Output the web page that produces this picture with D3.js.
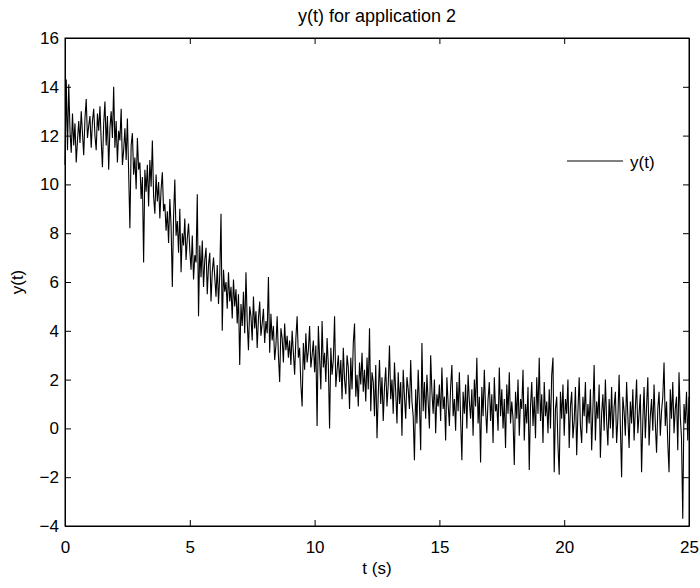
<!DOCTYPE html>
<html>
<head>
<meta charset="utf-8">
<script src="https://cdn.jsdelivr.net/npm/d3@7"></script>
<style>
body { margin: 0; background: #fff; }
text { font-family: "Liberation Sans", Arial, sans-serif; font-size: 17px; fill: #000; }
.axis path, .axis line { stroke: #000; }
</style>
</head>
<body>
<script>
var xTicks = [0, 5, 10, 15, 20, 25];
var yTicks = [-4, -2, 0, 2, 4, 6, 8, 10, 12, 14, 16];
var seriesName = "y(t)";

// samples, 0.05 s apart, one row per second
var yValues = [
  10.8, 14.3, 11.4, 14.1, 12.2, 11.3, 12.9, 11.6, 12.5, 10.9, 11.8, 12.6, 11.7, 13.0, 12.1, 11.2, 12.7, 13.5, 11.9, 12.4,
  12.8, 11.5, 12.6, 13.1, 12.0, 11.4, 12.9, 12.2, 13.2, 11.8, 10.7, 12.5, 13.4, 11.6, 12.8, 10.6, 12.3, 13.0, 11.9, 14.0,
  11.5, 12.6, 10.9, 12.2, 11.8, 13.1, 10.8, 11.4, 12.3, 11.0, 12.7, 10.5, 8.2, 11.6, 12.1, 10.4, 11.1, 9.8, 11.9, 10.6,
  10.9, 9.4, 10.3, 6.8, 10.6, 9.7, 10.8, 9.1, 11.0, 9.9, 11.8, 9.5, 8.8, 10.4, 9.3, 10.1, 8.6, 9.8, 10.5, 8.9,
  9.2, 8.1, 8.9, 7.6, 9.4, 8.3, 5.8, 8.7, 10.2, 7.9, 8.5, 7.2, 9.0, 6.4, 8.0, 7.5, 8.6, 6.9, 7.8, 8.4,
  7.3, 6.5, 7.9, 6.1, 7.1, 6.8, 9.6, 4.6, 7.5, 6.2, 7.7, 5.8, 6.9, 7.4, 5.5, 6.7, 7.2, 5.2, 6.4, 7.0,
  6.2, 5.4, 6.7, 5.1, 6.3, 8.8, 4.0, 6.5, 5.6, 6.0, 4.9, 6.4, 5.2, 5.8, 4.5, 6.1, 5.0, 5.7, 4.3, 5.5,
  2.6, 5.1, 4.2, 5.6, 3.9, 6.4, 4.4, 3.2, 5.0, 4.6, 3.6, 5.4, 4.1, 4.8, 3.3, 4.5, 5.2, 3.8, 4.3, 4.9,
  3.5, 4.4, 3.9, 6.2, 3.1, 4.7, 3.6, 4.2, 2.8, 3.4, 4.6, 3.0, 1.9, 4.1, 3.7, 2.7, 4.3, 3.2, 3.8, 2.9,
  3.6, 2.6, 4.0, 3.1, 2.2, 3.7, 4.6, 2.9, 3.3, 1.8, 0.9, 3.5, 2.4, 3.9, 2.7, 3.2, 4.2, 2.5, 3.0, 3.6,
  2.3, 3.4, 0.1, 4.2, 2.9, 1.6, 4.4, 2.5, 3.1, 1.9, 3.7, 2.6, 0.0, 3.3, 2.2, 2.8, 4.6, 1.7, 2.4, 3.0,
  1.9, 2.8, 1.2, 3.3, 2.0, 1.4, 3.0, 2.5, 0.8, 2.9, 1.6, 3.5, 4.3, 1.3, 2.2, 0.9, 2.7, 1.8, 3.1, 1.5,
  2.4, 1.1, 2.9, 1.6, 4.1, 0.7, 2.3, 1.9, 0.5, 2.6, -0.4, 1.4, 2.8, 1.0, 2.1, 0.3, 1.7, 2.5, 0.9, 1.8,
  3.4, 1.2, 2.0, 0.6, 2.7, 1.5, 0.2, 2.3, 1.0, 1.9, -0.3, 2.4, 1.3, 0.4, 2.1, 1.6, 0.8, 2.8, 1.1, 0.5,
  -1.3, 1.6, 0.2, 2.4, 1.0, -0.9, 3.5, 0.7, 1.9, 0.4, 2.2, 1.1, 0.0, 3.0, 1.5, 0.6, 2.0, -0.2, 1.4, 0.9,
  1.8, 0.3, 2.5, 0.8, 1.3, -0.5, 2.1, 1.0, 0.1, 1.7, 2.6, 0.5, 1.2, -0.1, 1.9, 0.7, 2.3, 0.4, -1.3, 1.5,
  0.6, 1.8, 0.0, 2.2, 1.1, 0.4, 1.6, -0.3, 2.0, 0.9, 2.9, 0.2, 1.3, -1.4, 1.7, 0.5, 2.4, 0.8, -0.2, 1.2,
  1.9, 0.3, 1.4, -0.6, 2.1, 0.7, 1.0, -0.1, 2.5, 0.5, 1.6, 0.0, 1.2, -0.8, 1.8, 0.6, 2.3, 0.2, 1.1, 0.4,
  -1.5, 1.5, 0.4, 2.0, -0.3, 1.2, 0.8, 2.4, -0.5, 1.0, 0.2, 1.7, -1.7, 0.9, 1.9, 0.1, 1.3, -0.4, 2.1, 0.6,
  2.9, 0.3, 1.4, -0.6, 1.9, 0.5, 1.1, -0.2, 1.6, 0.0, 2.2, 2.9, -1.8, 0.8, 1.3, -0.7, -1.9, 1.5, 0.4, 1.8,
  -0.3, 1.2, 0.6, 2.0, -0.8, 0.9, 1.5, -0.4, 0.3, 1.7, -1.1, 0.7, 2.1, 0.1, -0.6, 1.3, 0.5, 1.9, -0.2, 1.0,
  0.2, 1.6, -0.9, 0.8, 2.6, -0.5, 1.1, 0.4, 1.8, -1.2, 0.6, 1.4, -0.1, 2.0, 0.3, -0.7, 1.2, 0.0, 1.7, -0.4,
  0.9, 1.5, -0.6, 0.4, 2.2, 0.1, -2.0, 1.3, 0.7, -0.3, 1.9, 0.5, -0.8, 1.1, 0.2, 1.6, -0.5, 0.8, 2.0, -0.2,
  0.6, 1.4, -1.8, 0.3, 1.7, -0.4, 0.9, 2.1, -0.7, 0.5, 1.2, -0.1, 1.8, 0.2, -1.0, 0.8, 1.5, -0.3, 0.7, 1.3,
  2.7, 0.1, 1.1, -0.6, -1.8, 1.6, 0.4, 1.9, -0.2, 0.8, 1.3, -0.9, 2.3, 0.5, -0.4, -3.7, 1.0, 0.2, 1.5, -0.5,
  1.3
];

var W = 700, H = 588;
var mLeft = 65, mRight = 689, mTop = 38, mBottom = 526;

var svg = d3.select("body").append("svg")
    .attr("width", W)
    .attr("height", H);

var x = d3.scaleLinear().domain([0, 25]).range([mLeft, mRight]);
var y = d3.scaleLinear().domain([-4, 16]).range([mBottom, mTop]);

var n = yValues.length;
var data = yValues.map(function(v, i) { return {t: i * 25 / (n - 1), v: v}; });

var line = d3.line()
    .x(function(d) { return x(d.t); })
    .y(function(d) { return y(d.v); });

svg.append("path")
    .datum(data)
    .attr("fill", "none")
    .attr("stroke", "#000")
    .attr("stroke-width", 1.1)
    .attr("d", line);

function fontFix(g) {
    g.selectAll("text")
        .style("font-size", "17px")
        .style("font-family", "Liberation Sans, Arial, sans-serif");
}

// box with inward ticks on all four sides
svg.append("g")
    .attr("class", "axis")
    .attr("transform", "translate(0," + mBottom + ")")
    .call(d3.axisBottom(x).tickValues(xTicks).tickSizeInner(-6).tickSizeOuter(0).tickPadding(15))
    .call(fontFix);

svg.append("g")
    .attr("class", "axis")
    .attr("transform", "translate(0," + mTop + ")")
    .call(d3.axisTop(x).tickValues(xTicks).tickSizeInner(-6).tickSizeOuter(0).tickFormat(""));

svg.append("g")
    .attr("class", "axis")
    .attr("transform", "translate(" + mLeft + ",0)")
    .call(d3.axisLeft(y).tickValues(yTicks).tickSizeInner(-6).tickSizeOuter(0).tickPadding(6))
    .call(fontFix);

svg.append("g")
    .attr("class", "axis")
    .attr("transform", "translate(" + mRight + ",0)")
    .call(d3.axisRight(y).tickValues(yTicks).tickSizeInner(-6).tickSizeOuter(0).tickFormat(""));

svg.append("rect")
    .attr("x", mLeft)
    .attr("y", mTop)
    .attr("width", mRight - mLeft)
    .attr("height", mBottom - mTop)
    .attr("fill", "none")
    .attr("stroke", "#000");

svg.append("text")
    .attr("x", (mLeft + mRight) / 2)
    .attr("y", 22)
    .style("font-size", "18px")
    .style("text-anchor", "middle")
    .text("y(t) for application 2");

svg.append("text")
    .attr("x", (mLeft + mRight) / 2)
    .attr("y", 574)
    .style("text-anchor", "middle")
    .text("t (s)");

svg.append("text")
    .attr("transform", "translate(23," + (mTop + mBottom) / 2 + ") rotate(-90)")
    .style("text-anchor", "middle")
    .text("y(t)");

// legend
svg.append("line")
    .attr("x1", 567)
    .attr("x2", 623)
    .attr("y1", 161)
    .attr("y2", 161)
    .attr("stroke", "#000");

svg.append("text")
    .attr("x", 630)
    .attr("y", 168)
    .text(seriesName);
</script>
</body>
</html>
